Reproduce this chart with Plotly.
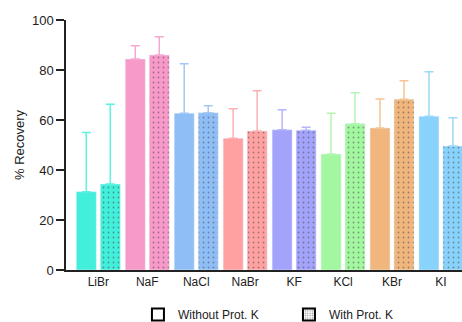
import plotly.graph_objects as go

categories = ["LiBr", "NaF", "NaCl", "NaBr", "KF", "KCl", "KBr", "KI"]
without_vals = [31.3, 84.4, 62.7, 52.7, 56.1, 46.4, 56.8, 61.5]
without_err = [23.7, 5.3, 19.8, 11.8, 8.0, 16.3, 11.6, 17.8]
with_vals = [34.4, 86.0, 62.9, 55.6, 55.9, 58.5, 68.3, 49.6]
with_err = [31.9, 7.3, 2.8, 16.1, 1.2, 12.4, 7.4, 11.3]
y_ticks = [0, 20, 40, 60, 80, 100]

bar_colors = ["#42EFDB", "#F799C9", "#8FBEF7", "#FFA1A1", "#A3A3FB", "#A3F7A0", "#F0B67E", "#88D2FB"]
err_colors = ["#5AF2E0", "#F5A9D0", "#A3C8F5", "#FBB2B2", "#B5B5FA", "#B5F5B2", "#F3C595", "#9DD8F8"]

fig = go.Figure()

fig.add_trace(go.Bar(
    x=categories, y=without_vals, name="Without Prot. K", showlegend=False,
    offsetgroup="a", hoverinfo="skip",
    marker=dict(color=bar_colors, line=dict(width=0)),
))
fig.add_trace(go.Bar(
    x=categories, y=with_vals, name="With Prot. K", showlegend=False,
    offsetgroup="b", hoverinfo="skip",
    marker=dict(color=bar_colors, line=dict(width=0),
                pattern=dict(shape=".", fgcolor="#444444", size=5, solidity=0.1)),
))

# per-category error bars (one-sided, lighter colour) on transparent bars sharing the group offsets
for i, c in enumerate(categories):
    fig.add_trace(go.Bar(
        x=[c], y=[without_vals[i]], offsetgroup="a", showlegend=False, hoverinfo="skip",
        marker=dict(color="rgba(0,0,0,0)"),
        error_y=dict(type="data", symmetric=False, array=[without_err[i]], arrayminus=[0],
                     color=err_colors[i], thickness=1.5, width=4.5),
    ))
    fig.add_trace(go.Bar(
        x=[c], y=[with_vals[i]], offsetgroup="b", showlegend=False, hoverinfo="skip",
        marker=dict(color="rgba(0,0,0,0)"),
        error_y=dict(type="data", symmetric=False, array=[with_err[i]], arrayminus=[0],
                     color=err_colors[i], thickness=1.5, width=4.5),
    ))

# legend entries on a hidden axis pair
fig.add_trace(go.Bar(x=[None], y=[None], name="Without Prot. K", xaxis="x2", yaxis="y2",
                     marker=dict(color="white", line=dict(color="black", width=1))))
fig.add_trace(go.Bar(x=[None], y=[None], name="With Prot. K", xaxis="x2", yaxis="y2",
                     marker=dict(color="white", line=dict(color="black", width=1),
                                 pattern=dict(shape=".", fgcolor="#333333", size=3, solidity=0.3))))

fig.update_layout(
    width=462, height=322,
    margin=dict(l=66, r=0, t=20, b=52, autoexpand=False),
    paper_bgcolor="white", plot_bgcolor="white",
    barmode="group", bargap=0.02, bargroupgap=0.167,
    font=dict(family="Liberation Sans, Arial, sans-serif", color="#222222", size=12),
    xaxis=dict(range=[-0.66, 7.43], showline=True, linecolor="#222222", linewidth=1.5,
               ticks="", tickfont=dict(size=12), showgrid=False, zeroline=False),
    yaxis=dict(range=[0, 100], tickvals=y_ticks, showline=True, linecolor="#222222", linewidth=1.5,
               ticks="outside", ticklen=8, tickwidth=1.5, tickcolor="#222222",
               tickfont=dict(size=13), showgrid=False, zeroline=False,
               title=dict(text="% Recovery", font=dict(size=13), standoff=4)),
    xaxis2=dict(overlaying="x", visible=False, range=[0, 1]),
    yaxis2=dict(overlaying="y", visible=False, range=[0, 1]),
    showlegend=True,
    legend=dict(orientation="h", x=0.563, xanchor="center", y=-0.12, yanchor="top",
                font=dict(size=12), entrywidth=106, itemsizing="constant"),
)

fig.write_html("out.html", config={"displayModeBar": False},
               post_script="document.body.style.margin='0';document.body.style.overflow='hidden';")
